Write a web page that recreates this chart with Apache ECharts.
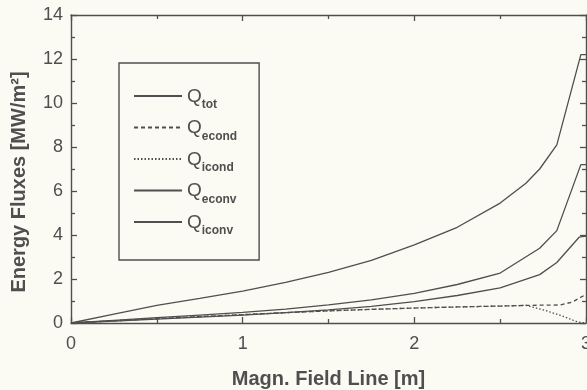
<!DOCTYPE html>
<html>
<head>
<meta charset="utf-8">
<script src="https://cdn.jsdelivr.net/npm/echarts@6/dist/echarts.min.js"></script>
<style>
html,body{margin:0;padding:0;background:#fbfbf3;}
#chart{width:587px;height:390px;}
</style>
</head>
<body>
<div id="chart"></div>
<script>
// Position along the magnetic field line [m] and energy flux components [MW/m^2]
const xTot   = [0, 0.25, 0.5, 0.75, 1, 1.25, 1.5, 1.75, 2, 2.25, 2.5, 2.65, 2.73, 2.83, 2.97, 3];
const qTot   = [0, 0.4, 0.8, 1.12, 1.45, 1.85, 2.3, 2.85, 3.55, 4.35, 5.45, 6.35, 7.0, 8.1, 12.2, 12.2];

const xCond  = [0, 0.25, 0.5, 0.75, 1, 1.25, 1.5, 1.75, 2, 2.25, 2.5, 2.65, 2.75, 2.85, 2.92, 3];
const qEcond = [0, 0.1, 0.2, 0.29, 0.38, 0.47, 0.55, 0.62, 0.68, 0.73, 0.77, 0.8, 0.81, 0.82, 0.95, 1.3];
const xIcond = [0, 0.25, 0.5, 0.75, 1, 1.25, 1.5, 1.75, 2, 2.25, 2.5, 2.65, 2.75, 2.85, 2.95, 3];
const qIcond = [0, 0.1, 0.2, 0.29, 0.38, 0.47, 0.55, 0.62, 0.68, 0.73, 0.77, 0.8, 0.6, 0.35, 0.05, 0];

const xConv  = [0, 0.25, 0.5, 0.75, 1, 1.25, 1.5, 1.75, 2, 2.25, 2.5, 2.73, 2.83, 2.97, 3];
const qEconv = [0, 0.12, 0.24, 0.36, 0.48, 0.63, 0.82, 1.05, 1.35, 1.75, 2.27, 3.4, 4.2, 7.2, 7.2];
const xIconv = [0, 0.25, 0.5, 0.75, 1, 1.25, 1.5, 1.75, 2, 2.25, 2.5, 2.73, 2.83, 2.96, 3];
const qIconv = [0, 0.09, 0.18, 0.27, 0.36, 0.47, 0.6, 0.76, 0.97, 1.25, 1.6, 2.2, 2.75, 3.9, 3.95];

const seriesNames = ['tot', 'econd', 'icond', 'econv', 'iconv'];
const xTicks = [0, 1, 2, 3];
const yTicks = [0, 2, 4, 6, 8, 10, 12, 14];

const ink = '#4f4f4f';
const pair = (xs, ys) => xs.map((x, i) => [x, ys[i]]);

const mkLine = (name, xs, ys, type) => ({
  name: name,
  type: 'line',
  data: pair(xs, ys),
  symbol: 'none',
  smooth: false,
  xAxisIndex: 0,
  yAxisIndex: 0,
  lineStyle: { color: ink, width: 1.3, type: type },
  itemStyle: { color: ink },
  z: 3
});

// frame axes: inside ticks, minor ticks halfway, lines kept on the grid edges
const frame = () => ({
  axisLine: { show: true, onZero: false, lineStyle: { color: ink, width: 1.4 } },
  axisTick: { show: true, inside: true, length: 6, lineStyle: { color: ink, width: 1.3 } },
  minorTick: { show: true, splitNumber: 2, length: 4, lineStyle: { color: ink, width: 1.3 } },
  splitLine: { show: false }
});

const chart = echarts.init(document.getElementById('chart'), null, { renderer: 'canvas' });
chart.setOption({
  backgroundColor: '#fbfbf3',
  animation: false,
  textStyle: { fontFamily: 'Liberation Sans, Arial, sans-serif' },
  grid: { left: 71, right: 1, top: 15, bottom: 67, containLabel: false, outerBoundsMode: 'none' },
  xAxis: [
    Object.assign(frame(), {
      type: 'value', min: 0, max: 3, interval: 1, position: 'bottom',
      name: 'Magn. Field Line [m]', nameLocation: 'middle', nameGap: 46,
      nameTextStyle: { color: ink, fontSize: 20, fontWeight: 'bold' },
      axisLabel: {
        color: ink, fontSize: 18, margin: 12,
        formatter: v => xTicks.includes(v) ? String(v) : ''
      }
    }),
    Object.assign(frame(), {
      type: 'value', min: 0, max: 3, interval: 1, position: 'top',
      axisLabel: { show: false }
    })
  ],
  yAxis: [
    Object.assign(frame(), {
      type: 'value', min: 0, max: 14, interval: 2, position: 'left',
      name: 'Energy Fluxes [MW/m²]', nameLocation: 'middle', nameGap: 42,
      nameTextStyle: { color: ink, fontSize: 20, fontWeight: 'bold', padding: [0, 26, 0, 0] },
      axisLabel: {
        color: ink, fontSize: 18, margin: 8,
        formatter: v => yTicks.includes(v) ? String(v) : ''
      }
    }),
    Object.assign(frame(), {
      type: 'value', min: 0, max: 14, interval: 2, position: 'right',
      axisLabel: { show: false }
    })
  ],
  legend: {
    orient: 'vertical',
    left: 119, top: 63,
    padding: [24, 22, 23, 14],
    itemGap: 7.5,
    itemWidth: 48,
    itemHeight: 14,
    borderColor: ink,
    borderWidth: 1.4,
    itemStyle: { opacity: 0 },
    data: seriesNames.map(n => ({ name: n })),
    formatter: n => '{q|Q}{s|' + n + '}',
    textStyle: {
      color: ink,
      rich: {
        q: { fontSize: 19, color: ink, verticalAlign: 'bottom', lineHeight: 20 },
        s: { fontSize: 12, color: ink, fontWeight: 'bold', verticalAlign: 'bottom', padding: [0, 0, -5, 0], lineHeight: 20 }
      }
    }
  },
  series: [
    mkLine('tot', xTot, qTot, 'solid'),
    mkLine('econd', xCond, qEcond, [4, 3]),
    mkLine('icond', xIcond, qIcond, [1.5, 2]),
    mkLine('econv', xConv, qEconv, 'solid'),
    mkLine('iconv', xIconv, qIconv, 'solid')
  ]
});
</script>
</body>
</html>
